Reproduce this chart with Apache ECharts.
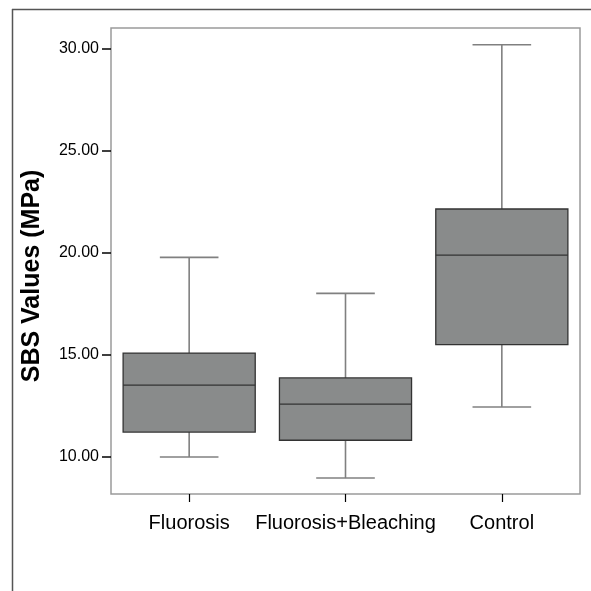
<!DOCTYPE html>
<html>
<head>
<meta charset="utf-8">
<script src="https://cdn.jsdelivr.net/npm/echarts@6/dist/echarts.min.js"></script>
<style>
html,body{margin:0;padding:0;background:#fff;}
#chart{width:591px;height:591px;}
</style>
</head>
<body>
<div id="chart"></div>
<script>
const categories = ['Fluorosis', 'Fluorosis+Bleaching', 'Control'];
const whiskerLow = [10.0, 8.97, 12.45];
const q1 = [11.22, 10.82, 15.5];
const median = [13.52, 12.59, 19.88];
const q3 = [15.09, 13.87, 22.14];
const whiskerHigh = [19.77, 18.01, 30.18];
const yTicks = [10, 15, 20, 25, 30];
const yName = 'SBS Values (MPa)';

const data = categories.map((c, i) => [i, whiskerLow[i], q1[i], median[i], q3[i], whiskerHigh[i]]);
const FONT = 'Liberation Sans, Arial, sans-serif';

const chart = echarts.init(document.getElementById('chart'));
chart.setOption({
  animation: false,
  backgroundColor: '#fff',
  grid: { left: 111, right: 11, top: 28, bottom: 97, show: true, borderColor: '#9a9a9a', borderWidth: 1.5, containLabel: false },
  xAxis: {
    type: 'category', data: categories, boundaryGap: true,
    axisLine: { show: false },
    axisTick: { show: true, alignWithLabel: true, length: 8, lineStyle: { color: '#000', width: 1.2 } },
    axisLabel: { interval: 0, hideOverlap: false, color: '#000', fontSize: 20, fontFamily: FONT, margin: 19 },
    splitLine: { show: false }
  },
  yAxis: {
    type: 'value', min: 8.19, max: 31.0,
    axisLine: { show: false },
    axisTick: { show: true, customValues: yTicks, length: 9, lineStyle: { color: '#000', width: 1.5 } },
    axisLabel: { customValues: yTicks, color: '#000', fontSize: 16, fontFamily: FONT, margin: 12,
      formatter: v => Number(v).toFixed(2) },
    splitLine: { show: false }
  },
  graphic: [
    { type: 'line', shape: { x1: 12, y1: 9.5, x2: 591, y2: 9.5 }, style: { stroke: '#555', lineWidth: 1.5 }, silent: true },
    { type: 'line', shape: { x1: 12.5, y1: 9, x2: 12.5, y2: 591 }, style: { stroke: '#555', lineWidth: 1.5 }, silent: true },
    { type: 'text', x: 32, y: 276, rotation: Math.PI / 2,
      style: { text: yName, font: 'bold 25px ' + FONT, fill: '#000', align: 'center', verticalAlign: 'middle' } }
  ],
  series: [{
    type: 'custom',
    data: data,
    encode: { x: 0, y: [1, 2, 3, 4, 5] },
    renderItem: function (params, api) {
      const xi = api.value(0);
      const band = api.size([1, 0])[0];
      const cx = api.coord([xi, 0])[0];
      const y = k => api.coord([xi, api.value(k)])[1];
      const yLo = y(1), yQ1 = y(2), yMed = y(3), yQ3 = y(4), yHi = y(5);
      const bw = band * 0.845, cw = band * 0.375;
      const wStyle = { stroke: '#808080', lineWidth: 1.6 };
      const bStyle = { stroke: '#333', lineWidth: 1.3 };
      return {
        type: 'group',
        children: [
          { type: 'line', shape: { x1: cx, y1: yHi, x2: cx, y2: yQ3 }, style: wStyle },
          { type: 'line', shape: { x1: cx, y1: yQ1, x2: cx, y2: yLo }, style: wStyle },
          { type: 'line', shape: { x1: cx - cw / 2, y1: yHi, x2: cx + cw / 2, y2: yHi }, style: wStyle },
          { type: 'line', shape: { x1: cx - cw / 2, y1: yLo, x2: cx + cw / 2, y2: yLo }, style: wStyle },
          { type: 'rect', shape: { x: cx - bw / 2, y: yQ3, width: bw, height: yQ1 - yQ3 }, style: { fill: '#898b8b', stroke: '#333', lineWidth: 1.3 } },
          { type: 'line', shape: { x1: cx - bw / 2, y1: yMed, x2: cx + bw / 2, y2: yMed }, style: bStyle }
        ]
      };
    }
  }]
});
</script>
</body>
</html>
